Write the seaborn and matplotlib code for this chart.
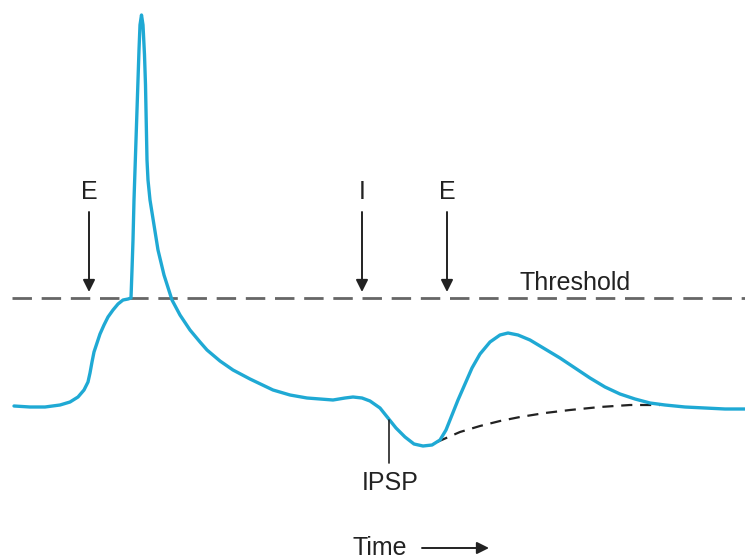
import matplotlib
matplotlib.use("Agg")
import matplotlib.pyplot as plt
import seaborn as sns

# membrane potential trace (time units, potential units; picture-scale)
trace_t = [14, 30, 45, 60, 70, 78, 84, 88, 90, 92, 94, 97, 100, 104, 108, 113, 118, 123, 128, 131,
           132, 133, 134, 135, 136, 137, 138, 139, 140, 141.5, 143, 144.5, 145.5, 146, 146.5, 147, 148,
           150, 154, 158, 164, 172, 180, 190, 200, 207, 220, 233, 250, 273, 290, 307, 333, 345, 353,
           362, 370, 380, 388, 396, 405, 414, 423, 432, 440, 446, 452, 458, 465, 472, 480, 490, 500,
           508, 518, 530, 545, 560, 575, 590, 605, 620, 635, 650, 665, 685, 705, 725, 745]
trace_v = [406, 407, 407, 405, 402, 397, 390, 382, 373, 362, 352, 343, 334, 325, 317, 310, 304, 300, 299, 298,
           270, 240, 200, 170, 140, 110, 80, 50, 25, 15, 25, 55, 85, 110, 135, 160, 180,
           200, 225, 250, 275, 300, 315, 330, 342, 350, 361, 370, 379, 390, 395, 398, 400, 398, 397,
           398, 401, 408, 418, 428, 437, 444, 446, 445, 440, 430, 415, 400, 384, 368, 354, 342, 335,
           333, 335, 340, 349, 358, 368, 378, 387, 394, 399, 403, 405, 407, 408, 409, 409]

# decay without the second EPSP (dashed)
decay_t = [437, 460, 480, 500, 520, 545, 570, 600, 630, 660]
decay_v = [442, 432, 426, 421, 417, 413, 410, 407, 405, 405]

threshold_v = 298
stim_labels = ["E", "I", "E"]
stim_t = [89, 362, 447]

sns.set_style("white")
plt.rcParams["font.family"] = ["Liberation Sans", "DejaVu Sans"]

fig = plt.figure(figsize=(7.45, 5.59), dpi=100)
ax = fig.add_axes([0, 0, 1, 1])

ax.hlines(threshold_v, 12, 745, colors="#666666", linestyles=(0, (7, 3.5)), linewidth=2)

sns.lineplot(x=decay_t, y=decay_v, sort=False, ax=ax, color="#222222",
             linewidth=1.6, linestyle=(0, (5, 3.5)))
sns.lineplot(x=trace_t, y=trace_v, sort=False, ax=ax, color="#1fa9d4", linewidth=2.4,
             solid_joinstyle="round", solid_capstyle="round")

for lab, t in zip(stim_labels, stim_t):
    ax.text(t, 192, lab, ha="center", va="center", fontsize=18, color="#222222")
    ax.annotate("", xy=(t, 292), xytext=(t, 212),
                arrowprops=dict(arrowstyle="-|>", color="#222222", lw=1.4,
                                mutation_scale=18, shrinkA=0, shrinkB=0))

ax.text(575, 283, "Threshold", ha="center", va="center", fontsize=18, color="#222222")

ax.plot([389, 389], [420, 463], color="#222222", linewidth=1.2)
ax.text(390, 483, "IPSP", ha="center", va="center", fontsize=18, color="#222222")

ax.text(380, 548, "Time", ha="center", va="center", fontsize=18, color="#222222")
ax.annotate("", xy=(489, 548), xytext=(422, 548),
            arrowprops=dict(arrowstyle="-|>", color="#222222", lw=1.4,
                            mutation_scale=18, shrinkA=0, shrinkB=0))

ax.set_xlim(0, 745)
ax.set_ylim(559, 0)
ax.axis("off")

fig.savefig("out.png", dpi=100)
